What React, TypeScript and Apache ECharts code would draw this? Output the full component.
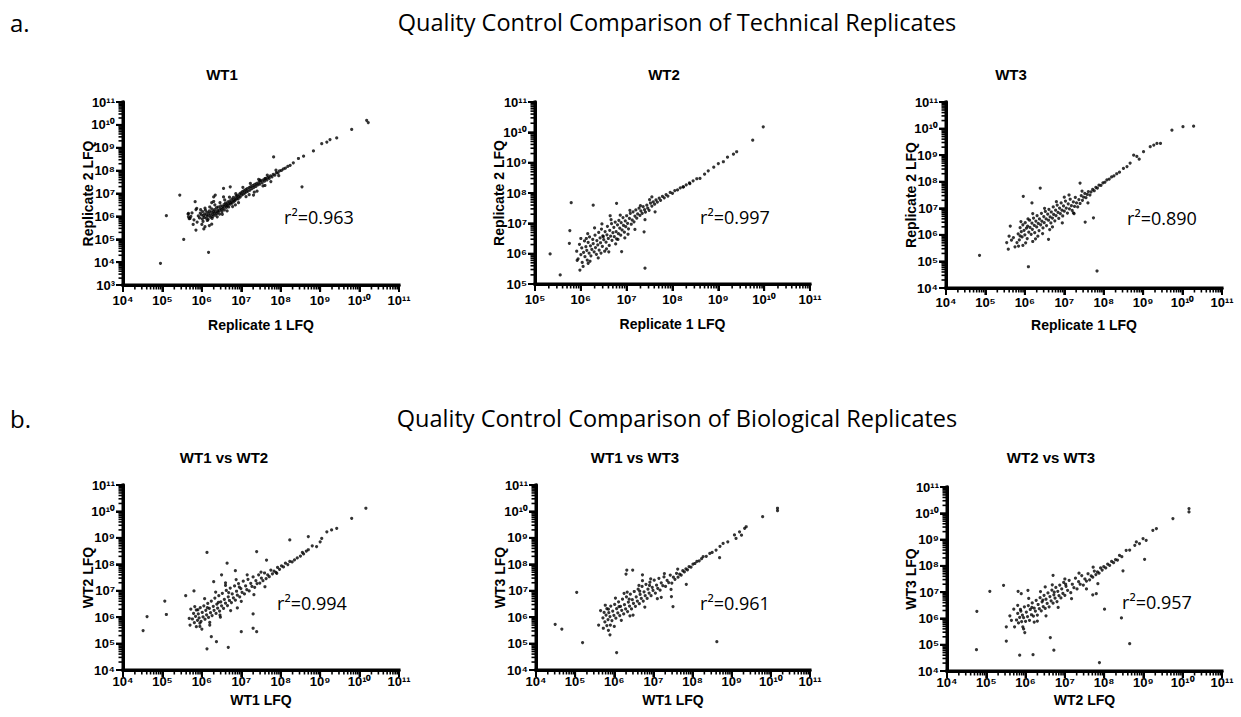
import React, { useEffect, useRef } from "react";
import * as echarts from "echarts";

// All points are [log10(x), log10(y)].
const wt1Points: number[][] = [
  [5.91,6.02],[5.94,5.93],[5.96,6.14],[5.99,6.07],[6.01,5.89],[6.02,6.21],[6.04,6.03],[6.06,5.96],[6.07,6.11],[6.09,6.27],[6.11,5.92],[6.12,6.06],[6.13,6.18],[6.15,6.01],[6.16,5.87],[6.18,6.13],[6.19,6.24],[6.21,6.05],[6.22,5.97],[6.24,6.19],[6.25,6.33],[6.27,6.09],[6.28,6.0],[6.29,6.22],[6.31,6.14],[6.32,6.29],[6.34,6.05],[6.35,6.2],[6.37,6.38],[6.38,6.12],[6.4,6.27],[6.41,6.19],[6.42,6.41],[6.44,6.24],[6.45,6.1],[6.47,6.34],[6.48,6.46],[6.5,6.29],[6.51,6.2],[6.53,6.43],[6.54,6.36],[6.56,6.51],[6.57,6.28],[6.59,6.45],[6.6,6.58],[6.62,6.39],[6.63,6.52],[6.65,6.47],[6.66,6.63],[6.68,6.41],[6.69,6.56],[6.71,6.68],[6.72,6.53],[6.74,6.61],[6.76,6.75],[6.77,6.58],[6.79,6.69],[6.8,6.83],[6.82,6.66],[6.84,6.77],[6.85,6.71],[6.87,6.88],[6.89,6.79],[6.9,6.92],[6.92,6.76],[6.94,6.87],[6.96,6.98],[6.97,6.84],[6.99,7.03],[7.01,6.93],[7.03,7.08],[7.05,6.97],[7.07,7.12],[7.09,7.02],[7.11,7.17],[7.13,7.07],[7.15,7.21],[7.17,7.1],[7.2,7.26],[7.22,7.15],[7.24,7.3],[7.27,7.21],[7.29,7.35],[7.32,7.27],[7.34,7.4],[7.37,7.31],[7.39,7.44],[7.42,7.38],[7.45,7.5],[7.47,7.41],[7.5,7.55],[7.53,7.47],[7.56,7.6],[7.59,7.54],[7.62,7.66],[7.65,7.59],[7.68,7.71],[7.71,7.66],[7.74,7.77],[7.78,7.73],[7.81,7.84],[7.85,7.8],[7.89,7.91],[7.93,7.9],[7.97,7.99],[8.02,8.01],[8.07,8.08],[8.12,8.11],[8.18,8.19],[8.24,8.23],
  [5.97,6.29],[6.03,5.78],[6.08,6.36],[6.14,5.82],[6.2,6.41],[6.26,5.91],[6.33,6.5],[6.39,5.98],[6.46,6.6],[6.52,6.09],[6.58,6.72],[6.64,6.24],[6.7,6.84],[6.78,6.43],[6.86,6.99],[6.93,6.6],[7.04,7.27],[7.12,6.86],[7.23,7.44],[7.33,7.06],[7.44,7.62],[7.55,7.33],[7.66,7.8],[7.75,7.52],[7.88,8.02],[7.95,7.78],
  [5.75,6.15],[5.8,5.85],[5.72,6.0],[5.85,6.3],[5.88,5.75],[5.68,5.9],[5.65,6.1],[5.78,5.65],[6.05,5.45],[6.08,5.55],[6.0,5.65],[6.25,6.6],[6.3,6.65],[6.55,6.85],[6.85,6.5],[7.2,6.95],[7.4,7.1],[7.6,7.35],
  [8.32,8.34],[8.45,8.53],[8.58,8.63],[8.83,8.86],[9.04,9.18],[9.17,9.25],[9.25,9.36],[9.42,9.43],[9.8,9.8],[10.18,10.2],[10.22,10.1],
  [5.44,6.93],[5.1,6.03],[4.95,3.95],[5.54,4.99],[6.17,4.43],[6.25,5.66],[6.19,5.6],[5.83,6.64],[5.87,6.35],[5.66,6.13],[5.66,5.98],[5.7,5.91],[5.85,5.4],[6.3,6.85],[6.34,6.93],[6.55,7.22],[6.72,7.29],[7.31,6.93],[7.82,8.6],[8.54,7.29],[7.48,7.58],[7.6,7.65]
];

const wt2Points: number[][] = [
  [5.91,6.08],[5.94,5.83],[5.97,6.31],[6.0,5.97],[6.02,6.19],[6.03,5.71],[6.06,6.04],[6.08,6.42],[6.09,5.9],[6.11,6.23],[6.13,6.11],[6.14,5.79],[6.16,6.37],[6.18,6.02],[6.19,6.55],[6.21,6.26],[6.22,5.93],[6.24,6.14],[6.26,6.47],[6.27,6.33],[6.29,6.06],[6.31,6.61],[6.32,6.2],[6.34,5.98],[6.35,6.43],[6.37,6.29],[6.39,6.7],[6.4,6.12],[6.42,6.52],[6.43,6.36],[6.45,6.81],[6.47,6.24],[6.48,6.59],[6.5,6.46],[6.52,6.08],[6.53,6.73],[6.55,6.38],[6.57,6.62],[6.58,6.9],[6.6,6.5],[6.62,6.27],[6.63,6.77],[6.65,6.58],[6.67,6.99],[6.68,6.44],[6.7,6.69],[6.72,6.87],[6.73,6.56],[6.75,7.04],[6.77,6.73],[6.78,6.49],[6.8,6.95],[6.82,6.66],[6.83,7.1],[6.85,6.84],[6.87,6.61],[6.88,7.02],[6.9,6.78],[6.92,7.19],[6.93,6.93],[6.95,6.71],[6.97,7.08],[6.98,6.89],[7.0,7.25],[7.02,7.0],[7.04,6.82],[7.06,7.16],[7.08,7.33],[7.1,6.97],[7.12,7.11],[7.14,7.38],[7.16,7.05],[7.18,7.24],[7.2,7.44],[7.22,7.17],[7.24,7.31],[7.27,7.5],[7.29,7.26],[7.31,7.41],[7.34,7.33],[7.36,7.55],[7.39,7.45],[7.41,7.37],[7.44,7.6],[7.46,7.5],[7.49,7.43],[7.52,7.67],[7.55,7.57],[7.58,7.71],[7.61,7.63],[7.64,7.77],[7.67,7.7],[7.71,7.83],[7.74,7.76],[7.78,7.89],[7.82,7.84],[7.86,7.95],[7.9,7.9],[7.95,8.02],[8.0,7.99],[8.05,8.08],[8.11,8.1],[8.17,8.17],[8.23,8.2],[8.3,8.27],[8.37,8.33],[8.45,8.4],[8.53,8.47],
  [6.05,5.58],[6.12,6.5],[6.2,5.75],[6.3,6.85],[6.38,5.86],[6.46,6.98],[6.56,6.16],[6.66,7.12],[6.76,6.32],[6.86,7.27],[6.96,6.52],[7.07,7.43],[7.18,6.8],[7.3,7.58],[7.4,7.12],[7.5,7.78],[7.62,7.38],[6.0,6.5],[6.15,6.66],[6.44,6.02],[6.61,6.06],[6.81,6.47],[7.03,6.64],
  [8.24,8.2],[8.38,8.31],[8.6,8.48],[8.78,8.73],[9.0,8.97],[9.11,9.03],[9.33,9.28],[9.4,9.36],[9.75,9.74],[9.98,10.18],[8.7,8.62],[8.9,8.85],[9.2,9.18],
  [5.33,5.99],[5.55,5.3],[5.75,6.34],[5.79,7.68],[5.76,6.76],[5.92,5.78],[5.98,5.46],[6.27,7.6],[6.78,7.66],[6.64,7.25],[7.4,5.52],[7.55,7.87],[6.89,6.07],[6.49,6.56],[7.38,6.72],[6.16,5.68]
];

const wt3Points: number[][] = [
  [5.83,6.04],[5.86,5.81],[5.88,6.27],[5.91,6.12],[5.93,5.92],[5.95,6.38],[5.98,6.17],[6.0,6.0],[6.01,6.46],[6.04,6.25],[6.06,5.86],[6.07,6.33],[6.1,6.1],[6.12,6.55],[6.13,6.28],[6.16,6.02],[6.18,6.44],[6.19,6.21],[6.22,6.63],[6.24,6.36],[6.25,6.08],[6.28,6.52],[6.3,6.3],[6.31,6.72],[6.34,6.43],[6.36,6.16],[6.37,6.6],[6.4,6.38],[6.42,6.81],[6.43,6.52],[6.46,6.26],[6.48,6.69],[6.49,6.46],[6.52,6.88],[6.54,6.6],[6.55,6.35],[6.58,6.78],[6.6,6.55],[6.61,6.96],[6.64,6.68],[6.66,6.45],[6.67,6.86],[6.7,6.63],[6.72,7.05],[6.73,6.77],[6.76,6.53],[6.78,6.93],[6.79,6.72],[6.82,7.12],[6.84,6.85],[6.86,6.62],[6.88,7.01],[6.9,6.8],[6.92,7.2],[6.94,6.93],[6.96,6.71],[6.98,7.09],[7.0,6.89],[7.03,7.27],[7.05,7.01],[7.08,6.82],[7.1,7.17],[7.13,6.98],[7.15,7.34],[7.18,7.1],[7.2,6.92],[7.23,7.24],[7.26,7.07],[7.28,7.41],[7.31,7.2],[7.34,7.05],[7.37,7.33],[7.4,7.18],[7.43,7.48],[7.46,7.3],[7.49,7.42],[7.52,7.56],[7.55,7.4],[7.58,7.52],[7.61,7.63],[7.65,7.5],[7.68,7.62],[7.72,7.71],[7.76,7.66],[7.8,7.79],[7.84,7.76],[7.88,7.87],[7.93,7.86],[7.98,7.96],[8.03,7.98],[8.08,8.07],[8.14,8.1],[8.2,8.18],[8.26,8.22],[8.33,8.3],[8.4,8.36],
  [5.9,6.5],[6.02,5.7],[6.2,6.8],[6.33,5.95],[6.5,7.0],[6.63,6.2],[6.8,7.25],[6.95,6.45],[7.12,7.5],[7.25,6.8],[7.45,7.65],[7.6,7.2],[6.08,6.6],[6.27,5.85],[6.7,6.3],[7.0,7.42],
  [8.5,8.5],[8.59,8.57],[8.67,8.7],[8.76,9.0],[8.84,8.95],[9.01,9.13],[9.18,9.32],[9.27,9.38],[9.35,9.44],[9.44,9.44],[9.73,9.94],[10.01,10.07],[10.28,10.09],[8.9,8.85],
  [4.85,5.23],[6.09,4.8],[7.83,4.64],[5.54,5.71],[5.58,5.46],[5.71,5.9],[5.8,5.71],[5.96,7.45],[6.39,7.76],[6.18,7.2],[7.53,6.48],[7.74,6.64],[7.23,6.83],[6.6,5.83],[5.63,6.33],[5.88,5.96],[5.84,5.58],[7.4,7.95],[5.75,5.55],[5.95,5.6],[6.2,5.75],[6.45,6.05],[5.66,5.8],[5.6,5.95]
];

const wt1VsWt2Points: number[][] = [
  [5.76,5.93],[5.79,6.14],[5.81,5.79],[5.84,6.03],[5.86,6.27],[5.89,5.88],[5.91,6.12],[5.93,5.97],[5.96,6.36],[5.98,5.84],[6.01,6.18],[6.03,6.01],[6.05,6.43],[6.08,5.92],[6.1,6.26],[6.12,6.09],[6.15,6.52],[6.17,5.99],[6.19,6.33],[6.22,6.17],[6.24,6.61],[6.26,6.06],[6.29,6.41],[6.31,6.26],[6.33,6.72],[6.36,6.14],[6.38,6.49],[6.4,6.34],[6.43,6.81],[6.45,6.23],[6.48,6.58],[6.5,6.43],[6.52,6.9],[6.55,6.33],[6.57,6.67],[6.6,6.53],[6.62,7.01],[6.65,6.44],[6.67,6.77],[6.7,6.63],[6.72,7.1],[6.75,6.55],[6.77,6.88],[6.8,6.73],[6.83,7.18],[6.85,6.64],[6.88,6.98],[6.9,6.83],[6.93,7.27],[6.96,6.77],[6.99,7.08],[7.02,6.94],[7.05,7.36],[7.08,6.88],[7.11,7.18],[7.14,7.04],[7.17,7.43],[7.2,6.99],[7.24,7.28],[7.27,7.16],[7.3,7.52],[7.34,7.13],[7.37,7.38],[7.4,7.27],[7.44,7.6],[7.47,7.29],[7.51,7.48],[7.55,7.38],[7.59,7.67],[7.63,7.46],[7.67,7.6],[7.71,7.53],[7.75,7.78],[7.79,7.64],[7.83,7.74],[7.88,7.69],[7.92,7.88],[7.97,7.81],[8.02,7.94],[8.07,7.9],[8.12,8.04],[8.18,7.99],[8.23,8.11],[8.29,8.09],[8.35,8.17],[8.42,8.24],[8.5,8.31],[8.58,8.39],
  [5.82,6.4],[5.95,5.65],[6.07,6.7],[6.2,5.8],[6.35,6.95],[6.47,6.0],[6.6,7.2],[6.73,6.25],[6.87,7.42],[7.0,6.6],[7.15,7.6],[7.32,6.85],[7.5,7.7],[5.9,6.28],[6.14,6.36],[6.42,6.56],[6.68,6.93],[6.95,7.14],
  [8.23,8.92],[8.7,9.05],[8.91,8.67],[9.04,8.98],[9.17,9.23],[9.29,9.3],[9.42,9.36],[9.8,9.74],[10.16,10.12],[8.7,8.55],[8.8,8.7],[9.0,8.85],[8.55,8.45],[8.65,8.5],
  [4.51,5.49],[4.61,6.02],[5.06,6.61],[5.1,6.1],[5.59,6.81],[5.8,6.99],[6.13,8.45],[6.13,4.8],[6.37,5.07],[6.24,5.26],[6.67,4.86],[6.64,8.04],[6.5,7.6],[6.3,7.34],[6.85,7.76],[7.0,5.45],[7.3,5.58],[7.39,5.45],[7.39,8.48],[7.64,8.16],[7.6,7.15],[7.3,6.12],[7.9,7.66],[6.46,6.08],[5.86,5.64],[5.95,5.77],[5.7,5.7],[5.72,6.3],[5.68,5.95],[6.0,5.55],[6.2,5.7],[6.6,7.3],[6.9,6.35]
];

const wt1VsWt3Points: number[][] = [
  [5.71,5.97],[5.74,6.18],[5.76,5.82],[5.79,6.08],[5.81,6.32],[5.84,5.91],[5.86,6.17],[5.89,6.02],[5.91,6.42],[5.94,5.87],[5.96,6.23],[5.99,6.07],[6.01,6.48],[6.04,5.96],[6.06,6.32],[6.09,6.16],[6.11,6.58],[6.14,6.06],[6.16,6.41],[6.19,6.26],[6.21,6.68],[6.24,6.12],[6.26,6.47],[6.29,6.31],[6.31,6.77],[6.34,6.21],[6.36,6.57],[6.39,6.42],[6.41,6.87],[6.44,6.31],[6.46,6.66],[6.49,6.52],[6.51,6.97],[6.54,6.41],[6.56,6.77],[6.59,6.61],[6.61,7.06],[6.64,6.51],[6.66,6.86],[6.69,6.71],[6.71,7.16],[6.74,6.61],[6.76,6.96],[6.79,6.81],[6.81,7.24],[6.84,6.71],[6.86,7.06],[6.89,6.91],[6.91,7.32],[6.94,6.81],[6.97,7.13],[6.99,7.01],[7.02,7.4],[7.05,6.91],[7.08,7.21],[7.11,7.09],[7.14,7.47],[7.17,7.02],[7.2,7.3],[7.24,7.19],[7.27,7.52],[7.31,7.16],[7.35,7.39],[7.39,7.31],[7.43,7.59],[7.47,7.29],[7.51,7.51],[7.55,7.43],[7.59,7.66],[7.63,7.51],[7.67,7.63],[7.71,7.59],[7.75,7.76],[7.79,7.71],[7.83,7.83],[7.87,7.79],[7.91,7.91],[7.96,7.89],[8.01,8.01],[8.06,8.03],[8.11,8.11],[8.17,8.13],[8.23,8.21],
  [5.77,6.45],[5.9,5.7],[6.03,6.72],[6.18,5.88],[6.33,6.95],[6.48,6.08],[6.63,7.2],[6.78,6.38],[6.93,7.45],[7.1,6.7],[7.28,7.65],[7.45,7.05],[7.62,7.82],[5.85,6.3],[6.12,6.4],[6.38,6.68],[6.65,6.98],[6.9,7.2],
  [8.27,8.29],[8.44,8.41],[8.6,8.54],[8.78,8.79],[9.07,9.11],[9.11,8.98],[9.2,9.23],[9.33,9.36],[9.37,9.42],[9.79,9.8],[10.17,10.12],[10.17,10.03],[8.35,8.3],[8.5,8.45],[8.7,8.68],[8.9,8.85],[9.25,9.1],
  [4.49,5.73],[4.66,5.55],[5.04,6.94],[5.19,5.04],[6.06,4.66],[5.89,5.33],[6.32,7.78],[6.3,7.63],[6.47,7.78],[6.72,7.6],[6.72,7.38],[7.46,6.78],[7.5,6.4],[7.84,7.24],[8.62,5.07],[8.69,8.25],[5.81,5.68],[5.72,5.58],[5.65,6.25],[5.6,5.7],[5.85,5.5],[6.0,5.65],[6.25,6.9],[6.4,6.05],[7.2,6.75]
];

const wt2VsWt3Points: number[][] = [
  [5.77,5.94],[5.8,6.19],[5.82,5.83],[5.85,6.04],[5.87,6.34],[5.9,5.88],[5.92,6.13],[5.95,6.03],[5.97,6.44],[6.0,5.89],[6.02,6.24],[6.05,6.07],[6.07,6.49],[6.1,5.93],[6.12,6.34],[6.15,6.14],[6.17,6.59],[6.2,6.09],[6.22,6.39],[6.25,6.28],[6.27,6.69],[6.3,6.13],[6.32,6.53],[6.35,6.37],[6.37,6.79],[6.4,6.29],[6.42,6.63],[6.45,6.45],[6.47,6.88],[6.5,6.38],[6.52,6.73],[6.55,6.57],[6.57,6.97],[6.6,6.44],[6.62,6.83],[6.65,6.67],[6.67,7.08],[6.7,6.58],[6.72,6.9],[6.75,6.77],[6.77,7.18],[6.8,6.64],[6.82,7.03],[6.85,6.87],[6.87,7.27],[6.9,6.78],[6.92,7.12],[6.95,6.95],[6.97,7.37],[7.0,6.88],[7.03,7.22],[7.07,7.07],[7.11,7.45],[7.15,6.98],[7.19,7.3],[7.23,7.17],[7.27,7.53],[7.31,7.12],[7.35,7.4],[7.39,7.3],[7.43,7.63],[7.47,7.27],[7.51,7.5],[7.55,7.42],[7.59,7.7],[7.63,7.47],[7.67,7.62],[7.71,7.57],[7.75,7.8],[7.79,7.67],[7.83,7.77],[7.87,7.72],[7.91,7.92],[7.95,7.84],[7.99,7.97],[8.04,7.92],[8.09,8.07],[8.14,8.02],[8.19,8.17],[8.24,8.12],[8.29,8.24],[8.34,8.22],
  [5.8,6.5],[5.93,5.68],[6.08,6.76],[6.22,5.86],[6.38,7.02],[6.52,6.1],[6.68,7.28],[6.83,6.42],[7.0,7.5],[7.17,6.75],[7.36,7.72],[7.55,7.12],[7.72,7.95],[5.88,6.28],[6.16,6.42],[6.44,6.7],[6.73,7.0],[7.02,7.3],
  [8.39,8.4],[8.56,8.59],[8.78,8.78],[8.82,8.91],[8.99,9.04],[9.07,8.97],[9.24,9.35],[9.33,9.42],[9.75,9.8],[10.16,10.18],[10.16,10.05],[8.45,8.35],[8.65,8.6],[8.9,8.85],[9.03,8.25],
  [4.75,4.81],[4.76,6.27],[5.09,7.03],[5.44,7.26],[5.51,5.14],[5.85,4.6],[6.19,4.62],[6.63,5.27],[6.72,4.79],[7.88,4.32],[8.65,5.04],[8.44,6.02],[8.01,6.35],[7.8,6.94],[7.71,6.9],[7.84,7.32],[8.48,7.81],[6.7,7.64],[5.89,6.94],[6.06,7.07],[5.81,7.03],[5.64,5.93],[5.72,5.68],[5.51,5.68],[5.98,5.46],[5.6,6.1],[5.7,6.35],[5.95,5.6],[6.3,5.9],[6.5,7.2]
];

const panelPoints = [wt1Points, wt2Points, wt3Points, wt1VsWt2Points, wt1VsWt3Points, wt2VsWt3Points];
const panelTitles = ["WT1", "WT2", "WT3", "WT1 vs WT2", "WT1 vs WT3", "WT2 vs WT3"];
const xAxisNames = ["Replicate 1 LFQ", "Replicate 1 LFQ", "Replicate 1 LFQ", "WT1 LFQ", "WT1 LFQ", "WT2 LFQ"];
const yAxisNames = ["Replicate 2 LFQ", "Replicate 2 LFQ", "Replicate 2 LFQ", "WT2 LFQ", "WT3 LFQ", "WT3 LFQ"];
const rSquaredValues = ["0.963", "0.997", "0.890", "0.994", "0.961", "0.957"];
const xMinExponents = [4, 5, 4, 4, 4, 4];
const xMaxExponents = [11, 11, 11, 11, 11, 11];
const yMinExponents = [3, 5, 4, 4, 4, 4];
const yMaxExponents = [11, 11, 11, 11, 11, 11];
const sectionLetters = ["a.", "b."];
const sectionHeadings = [
  "Quality Control Comparison of Technical Replicates",
  "Quality Control Comparison of Biological Replicates",
];

// Layout (pixels)
const gridBoxes = [
  { left: 123, top: 102, width: 276, height: 183 },
  { left: 535, top: 102, width: 275, height: 182 },
  { left: 946, top: 102, width: 276, height: 186 },
  { left: 123, top: 485, width: 276, height: 185 },
  { left: 536, top: 485, width: 274, height: 185 },
  { left: 947, top: 487, width: 275, height: 184 },
];
const titlePos = [[222, 74], [664, 74], [1011, 74], [224, 457], [635, 457], [1051, 457]];
const xNameOffset = [40, 40, 37, 30, 30, 29];
const xLabelMargin = [9, 9, 8, 5, 5, 5];
const yNameX = [88, 499, 911, 88, 500, 911];
const rPos = [[319, 217], [735, 217], [1162, 218], [312, 603], [735, 603], [1157, 602]];
const sectionY = [22, 418];

const LABEL_FONT = "Liberation Sans";
const HEAD_FONT = "Open Sans";
const SUPERSCRIPTS = ["⁰", "¹", "²", "³", "⁴", "⁵", "⁶", "⁷", "⁸", "⁹"];

function powerLabel(v: number): string {
  return "10" + String(Math.round(v)).split("").map((d) => SUPERSCRIPTS[Number(d)]).join("");
}
function decadeTicks(lo: number, hi: number): number[] {
  const out: number[] = [];
  for (let n = lo; n <= hi; n++) out.push(n);
  return out;
}
function minorTicks(lo: number, hi: number): number[] {
  const out: number[] = [];
  for (let n = lo; n < hi; n++) for (let k = 2; k <= 9; k++) out.push(n + Math.log10(k));
  return out;
}
function blackRect(x: number, y: number, w: number, h: number) {
  return { type: "rect", shape: { x, y, width: w, height: h }, style: { fill: "#000" }, z: 10 };
}

export default function App() {
  const ref = useRef<HTMLDivElement>(null);
  useEffect(() => {
    if (!ref.current) return;
    const chart = echarts.init(ref.current, undefined, { renderer: "svg" });
    const grid: any[] = [];
    const xAxis: any[] = [];
    const yAxis: any[] = [];
    const series: any[] = [];
    const graphic: any[] = [];

    gridBoxes.forEach((g, i) => {
      grid.push({ left: g.left, top: g.top, width: g.width, height: g.height });
      const xMin = xMinExponents[i], xMax = xMaxExponents[i];
      const yMin = yMinExponents[i], yMax = yMaxExponents[i];
      xAxis.push({
        type: "value", gridIndex: i, min: xMin, max: xMax, interval: 1,
        axisLine: { show: true, onZero: false, lineStyle: { color: "#000", width: 3 } },
        axisTick: { show: true, length: 7, lineStyle: { color: "#000", width: 2 } },
        axisLabel: { formatter: powerLabel, color: "#000", fontSize: 13, fontWeight: "bold", fontFamily: LABEL_FONT, margin: xLabelMargin[i] },
        splitLine: { show: false },
      });
      yAxis.push({
        type: "value", gridIndex: i, min: yMin, max: yMax, interval: 1,
        axisLine: { show: true, onZero: false, lineStyle: { color: "#000", width: 3 } },
        axisTick: { show: true, length: 7, lineStyle: { color: "#000", width: 2 } },
        axisLabel: { formatter: powerLabel, color: "#000", fontSize: 13, fontWeight: "bold", fontFamily: LABEL_FONT, margin: 8 },
        splitLine: { show: false },
      });
      series.push({
        type: "scatter", xAxisIndex: i, yAxisIndex: i,
        data: panelPoints[i], symbol: "circle", symbolSize: 3.2,
        itemStyle: { color: "#000" },
      });

      const cx = g.left + g.width / 2;
      const cy = g.top + g.height / 2;
      graphic.push({
        type: "text", x: titlePos[i][0], y: titlePos[i][1],
        style: { text: panelTitles[i], fontSize: 15, fontWeight: "bold", fontFamily: LABEL_FONT, fill: "#000", textAlign: "center", textVerticalAlign: "middle" },
      });
      graphic.push({
        type: "text", x: cx, y: g.top + g.height + xNameOffset[i],
        style: { text: xAxisNames[i], fontSize: 14, fontWeight: "bold", fontFamily: LABEL_FONT, fill: "#000", textAlign: "center", textVerticalAlign: "middle" },
      });
      graphic.push({
        type: "text", x: yNameX[i], y: cy, rotation: Math.PI / 2,
        style: { text: yAxisNames[i], fontSize: 14, fontWeight: "bold", fontFamily: LABEL_FONT, fill: "#000", textAlign: "center", textVerticalAlign: "middle" },
      });
      graphic.push({
        type: "text", x: rPos[i][0], y: rPos[i][1],
        style: { text: `r²=${rSquaredValues[i]}`, fontSize: 18, fontFamily: HEAD_FONT, fill: "#000", textAlign: "center", textVerticalAlign: "middle" },
      });
    });

    sectionLetters.forEach((t, i) => {
      graphic.push({
        type: "text", x: 10, y: sectionY[i],
        style: { text: t, fontSize: 24, fontFamily: HEAD_FONT, fill: "#000", textAlign: "left", textVerticalAlign: "middle" },
      });
      graphic.push({
        type: "text", x: 677, y: sectionY[i],
        style: { text: sectionHeadings[i], fontSize: 23.5, fontFamily: HEAD_FONT, fill: "#000", textAlign: "center", textVerticalAlign: "middle" },
      });
    });

    chart.setOption({ animation: false, grid, xAxis, yAxis, series });

    // Minor log ticks (and a copy of the axis frame), positioned through the chart's own scales.
    gridBoxes.forEach((_g, i) => {
      const xMin = xMinExponents[i], xMax = xMaxExponents[i];
      const yMin = yMinExponents[i], yMax = yMaxExponents[i];
      const px = (x: number, y: number) => chart.convertToPixel({ gridIndex: i }, [x, y]) as number[];
      const o = px(xMin, yMin);
      const xe = px(xMax, yMin);
      const ye = px(xMin, yMax);
      graphic.push(blackRect(o[0] - 1.5, o[1] - 1.5, xe[0] - o[0] + 3, 3));
      graphic.push(blackRect(o[0] - 1.5, ye[1] - 1.5, 3, o[1] - ye[1] + 3));
      decadeTicks(xMin, xMax).forEach((v) => { const p = px(v, yMin); graphic.push(blackRect(p[0] - 1, p[1], 2, 7)); });
      minorTicks(xMin, xMax).forEach((v) => { const p = px(v, yMin); graphic.push(blackRect(p[0] - 0.8, p[1], 1.6, 4.5)); });
      decadeTicks(yMin, yMax).forEach((v) => { const p = px(xMin, v); graphic.push(blackRect(p[0] - 7, p[1] - 1, 7, 2)); });
      minorTicks(yMin, yMax).forEach((v) => { const p = px(xMin, v); graphic.push(blackRect(p[0] - 4.5, p[1] - 0.8, 4.5, 1.6)); });
    });

    chart.setOption({ graphic });
    return () => chart.dispose();
  }, []);
  return <div ref={ref} style={{ position: "fixed", left: 0, top: 0, width: 1241, height: 717, background: "#fff" }} />;
}
